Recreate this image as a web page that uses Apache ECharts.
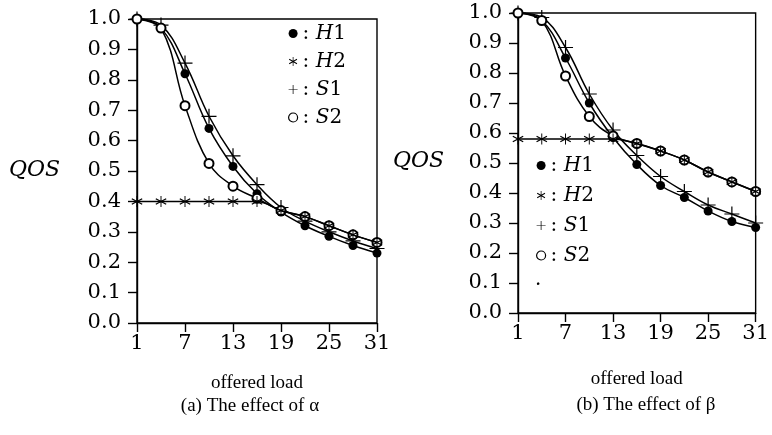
<!DOCTYPE html>
<html>
<head>
<meta charset="utf-8">
<script src="https://cdn.jsdelivr.net/npm/echarts@6/dist/echarts.min.js"></script>
<style>
html,body{margin:0;padding:0;background:#fff;}
#c{width:772px;height:435px;}
</style>
</head>
<body>
<div id="c"></div>
<script>
// ---- data ----
var loads = [1, 4, 7, 10, 13, 16, 19, 22, 25, 28, 31];
var xTicks = [1, 7, 13, 19, 25, 31];
var seriesNames = ['H1', 'H2', 'S1', 'S2'];
// panel (a): effect of alpha
var aH1 = [1.0, 0.97, 0.82, 0.64, 0.515, 0.425, 0.365, 0.32, 0.285, 0.255, 0.23];
var aH2 = [0.4, 0.4, 0.4, 0.4, 0.4, 0.4, 0.37, 0.35, 0.32, 0.29, 0.265];
var aS1 = [1.0, 0.98, 0.855, 0.68, 0.55, 0.455, 0.38, 0.335, 0.30, 0.27, 0.245];
var aS2 = [1.0, 0.97, 0.715, 0.525, 0.45, 0.41, 0.37, 0.35, 0.32, 0.29, 0.265];
// panel (b): effect of beta
var bH1 = [1.0, 0.975, 0.85, 0.70, 0.585, 0.495, 0.425, 0.385, 0.34, 0.305, 0.285];
var bH2 = [0.58, 0.58, 0.58, 0.58, 0.58, 0.565, 0.54, 0.51, 0.47, 0.437, 0.405];
var bS1 = [1.0, 0.985, 0.885, 0.73, 0.61, 0.525, 0.455, 0.405, 0.36, 0.33, 0.30];
var bS2 = [1.0, 0.975, 0.79, 0.655, 0.59, 0.565, 0.54, 0.51, 0.47, 0.437, 0.405];
var captions = ['(a) The effect of \u03b1', '(b) The effect of \u03b2'];
var xName = 'offered load';
var yName = 'QOS';

// ---- styling ----
var PLUS = 'path://M9.2,0H10.8V9.2H20V10.8H10.8V20H9.2V10.8H0V9.2H9.2Z';
var STAR = 'path://M9.2,0L10.8,0L10.8,20L9.2,20Z' +
  'M1.84,4.13L19.16,14.13L18.16,15.87L0.84,5.87Z' +
  'M19.16,5.87L1.84,15.87L0.84,14.13L18.16,4.13Z';
var tickFont = 'DejaVu Serif';
var symbolOf = {
  H1: {symbol: 'circle', size: 9},
  H2: {symbol: STAR, size: 11},
  S1: {symbol: PLUS, size: 15},
  S2: {symbol: 'emptyCircle', size: 9}
};

function zip(xs, ys) { return xs.map(function (x, i) { return [x, ys[i]]; }); }

function xAxis(gi, gap) {
  return {
    type: 'value', gridIndex: gi, min: 1, max: 31,
    name: xName, nameLocation: 'middle', nameGap: gap,
    nameTextStyle: {fontFamily: 'Liberation Serif', fontSize: 19, color: '#000'},
    axisLine: {show: true, lineStyle: {color: '#000', width: 1.4}},
    axisTick: {show: true, length: 9, customValues: xTicks, lineStyle: {color: '#000', width: 1.4}},
    axisLabel: {customValues: xTicks, margin: 10, fontFamily: tickFont, fontSize: 21, color: '#000'},
    splitLine: {show: false}
  };
}
function yAxis(gi) {
  return {
    type: 'value', gridIndex: gi, min: 0, max: 1, interval: 0.1,
    axisLine: {show: true, lineStyle: {color: '#000', width: 1.4}},
    axisTick: {show: true, length: 9, lineStyle: {color: '#000', width: 1.4}},
    axisLabel: {margin: 16, fontFamily: tickFont, fontSize: 21, color: '#000',
      formatter: function (v) { return v.toFixed(1); }},
    splitLine: {show: false}
  };
}
function mkSeries(gi, name, ys) {
  var s = symbolOf[name];
  return {
    type: 'line', name: name, xAxisIndex: gi, yAxisIndex: gi,
    data: zip(loads, ys), smooth: 0.4,
    symbol: s.symbol, symbolSize: s.size, showSymbol: true,
    lineStyle: {color: '#000', width: 1.5},
    itemStyle: {color: '#000', borderColor: '#000', borderWidth: name === 'S2' ? 1.3 : 0},
    z: name === 'H2' ? 5 : 3,
    animation: false
  };
}
function legendData() {
  return seriesNames.map(function (n) {
    var s = symbolOf[n];
    var icon = s.symbol === 'emptyCircle' ? 'circle' : s.symbol;
    return {
      name: n, icon: icon,
      itemStyle: n === 'S2' ? {color: '#fff', borderColor: '#000', borderWidth: 1.2}
                            : {color: '#000', borderWidth: 0}
    };
  });
}
function legend(left, top, gap) {
  return {
    data: legendData(), orient: 'vertical', left: left, top: top,
    itemWidth: 9, itemHeight: 9, itemGap: gap, selectedMode: false,
    formatter: function (n) { return ': {i|' + n.charAt(0) + '}' + n.slice(1); },
    textStyle: {fontFamily: tickFont, fontSize: 20, color: '#000', lineHeight: 21,
      rich: {i: {fontFamily: tickFont, fontStyle: 'italic', fontSize: 20, color: '#000'}}}
  };
}

var chart = echarts.init(document.getElementById('c'), null, {renderer: 'canvas'});
chart.setOption({
  backgroundColor: '#fff',
  animation: false,
  grid: [
    {left: 137, top: 19, width: 240, height: 304, show: true, borderColor: '#000', borderWidth: 1.4},
    {left: 518, top: 13, width: 246, height: 300, show: true, borderColor: '#000', borderWidth: 1.4}
  ],
  xAxis: [xAxis(0, 51), xAxis(1, 57)],
  yAxis: [yAxis(0), yAxis(1)],
  legend: [legend(283, 18, 7), legend(531, 150, 9)],
  title: [
    {text: captions[0], left: 245, top: 392, textAlign: 'center',
      textStyle: {fontFamily: 'Liberation Serif', fontSize: 19, fontWeight: 'normal', color: '#000'}},
    {text: captions[1], left: 641, top: 391, textAlign: 'center',
      textStyle: {fontFamily: 'Liberation Serif', fontSize: 19, fontWeight: 'normal', color: '#000'}}
  ],
  graphic: [
    {type: 'text', left: 9, top: 159, style: {text: yName, font: 'italic 22px "DejaVu Serif"', fill: '#000'}},
    {type: 'text', left: 393, top: 150, style: {text: yName, font: 'italic 22px "DejaVu Serif"', fill: '#000'}},
    {type: 'text', left: 535, top: 276, style: {text: '\u00b7', font: '20px "DejaVu Serif"', fill: '#000'}}
  ],
  series: [
    mkSeries(0, 'H2', aH2), mkSeries(0, 'H1', aH1), mkSeries(0, 'S1', aS1), mkSeries(0, 'S2', aS2),
    mkSeries(1, 'H2', bH2), mkSeries(1, 'H1', bH1), mkSeries(1, 'S1', bS1), mkSeries(1, 'S2', bS2)
  ]
});
</script>
</body>
</html>
